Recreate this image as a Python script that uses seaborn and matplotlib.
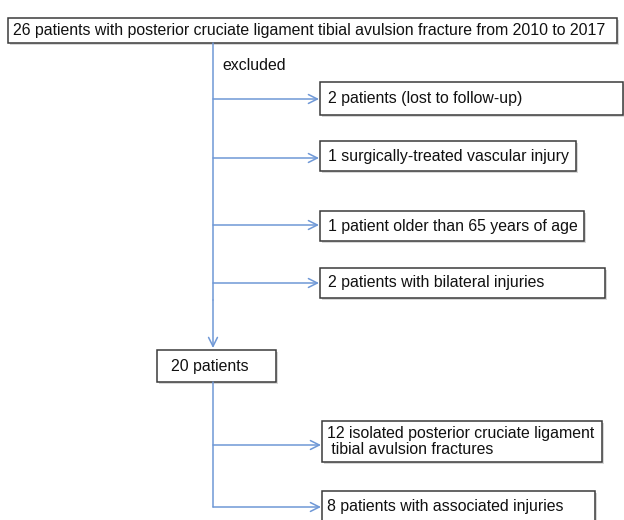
import matplotlib.pyplot as plt
import seaborn as sns
from matplotlib.patches import Rectangle

total_label = "26 patients with posterior cruciate ligament tibial avulsion fracture from 2010 to 2017"
excluded_labels = ["2 patients (lost to follow-up)",
                   "1 surgically-treated vascular injury",
                   "1 patient older than 65 years of age",
                   "2 patients with bilateral injuries"]
remaining_label = "20 patients"
group_labels = ["12 isolated posterior cruciate ligament\n tibial avulsion fractures",
                "8 patients with associated injuries"]

sns.set_theme(style="white")
plt.rcParams['font.family'] = ['Liberation Sans', 'DejaVu Sans']

fig = plt.figure(figsize=(6.24, 5.2), dpi=100)
ax = fig.add_axes([0, 0, 1, 1])
ax.set_xlim(0, 624)
ax.set_ylim(520, 0)
ax.axis('off')

line_c = '#6f98d6'
edge_c = '#3a3a3a'
fs = 11.4

def box(x0, y0, x1, y1, text, pad=8, ha='left'):
    ax.add_patch(Rectangle((x0 + 2, y0 + 2), x1 - x0, y1 - y0, fc='#d8d8d8', ec='none', zorder=1))
    ax.add_patch(Rectangle((x0, y0), x1 - x0, y1 - y0, fc='white', ec=edge_c, lw=1.1, zorder=2))
    ax.text(x0 + pad, (y0 + y1) / 2, text, ha=ha, va='center', fontsize=fs, color='#111111',
            zorder=3, linespacing=1.15)

def arrow(x0, y0, x1, y1):
    ax.annotate('', xy=(x1, y1), xytext=(x0, y0),
                arrowprops=dict(arrowstyle='->', color=line_c, lw=1.1,
                                shrinkA=0, shrinkB=0, mutation_scale=16))

trunk_x = 213

box(8, 18, 617, 43, total_label, pad=5)
ax.plot([trunk_x, trunk_x], [43, 300], color=line_c, lw=1.1)
arrow(trunk_x, 300, trunk_x, 348)
ax.text(222, 66, "excluded", ha='left', va='center', fontsize=fs, color='#111111')

ex_boxes = [(82, 115, 623), (141, 171, 576), (211, 241, 584), (268, 298, 605)]
ex_arrow_y = [99, 158, 225, 283]
for (y0, y1, x1), ay, lab in zip(ex_boxes, ex_arrow_y, excluded_labels):
    box(320, y0, x1, y1, lab)
    arrow(trunk_x, ay, 319, ay)

box(157, 350, 276, 382, remaining_label, pad=14)

ax.plot([trunk_x, trunk_x], [382, 507], color=line_c, lw=1.1)
gr_boxes = [(421, 462, 602), (491, 522, 595)]
gr_arrow_y = [445, 507]
for (y0, y1, x1), ay, lab in zip(gr_boxes, gr_arrow_y, group_labels):
    box(322, y0, x1, y1, lab, pad=5)
    arrow(trunk_x, ay, 321, ay)

fig.savefig('out.png', dpi=100)
